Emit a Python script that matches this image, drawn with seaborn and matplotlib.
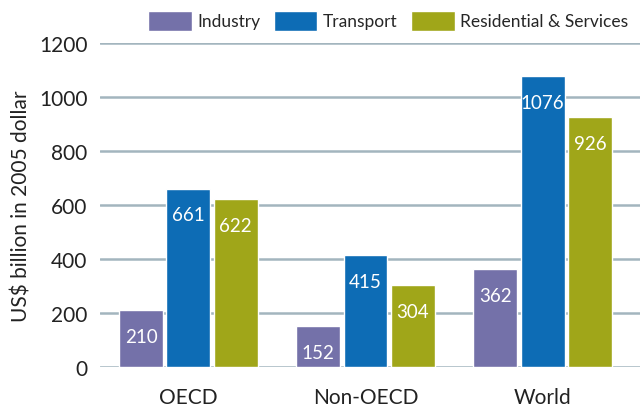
import pandas as pd
import matplotlib.pyplot as plt
import seaborn as sns

# values (US$ billion in 2005 dollar)
regions = ["OECD", "Non-OECD", "World"]
sectors = ["Industry", "Transport", "Residential & Services"]
industry = [210, 152, 362]
transport = [661, 415, 1076]
residential = [622, 304, 926]
colors = ["#7471a9", "#0d6cb5", "#a0a619"]
y_ticks = [0, 200, 400, 600, 800, 1000, 1200]

df = pd.DataFrame({
    "region": regions * 3,
    "sector": [s for s in sectors for _ in regions],
    "value": industry + transport + residential,
})

sns.set_style("white")
plt.rcParams["font.family"] = ["Lato", "DejaVu Sans"]

fig = plt.figure(figsize=(6.4, 4.1), dpi=100)
ax = fig.add_axes([0.156, 0.102, 0.844, 0.791])

sns.barplot(data=df, x="region", y="value", hue="sector", palette=colors,
            width=0.8, gap=0.07, saturation=1, ax=ax, zorder=3)

for cont in ax.containers:
    ax.bar_label(cont, labels=[f"{int(v)}" for v in cont.datavalues],
                 padding=-25, color="white", fontsize=13.5)

ax.set_ylim(0, 1200)
ax.set_xlim(-0.5, 2.55)
ax.set_yticks(y_ticks)
ax.yaxis.grid(True, color="#a3b5be", linewidth=1.8, zorder=0)
ax.set_axisbelow(True)
for s in ax.spines.values():
    s.set_visible(False)
ax.tick_params(axis="y", length=0, pad=9, labelsize=15, labelcolor="#222222")
ax.tick_params(axis="x", length=0, pad=14, labelsize=15, labelcolor="#222222")
ax.set_xlabel("")
ax.set_ylabel("US$ billion in 2005 dollar", fontsize=15, color="#222222")
ax.yaxis.set_label_coords(-0.127, 0.5)

ax.legend(loc="lower right", bbox_to_anchor=(1.0, 1.0), ncol=3, frameon=False,
          fontsize=12.5, handlelength=2.5, handleheight=1.4, columnspacing=0.8,
          handletextpad=0.3, borderaxespad=0.3)

fig.savefig("out.png", dpi=100)
